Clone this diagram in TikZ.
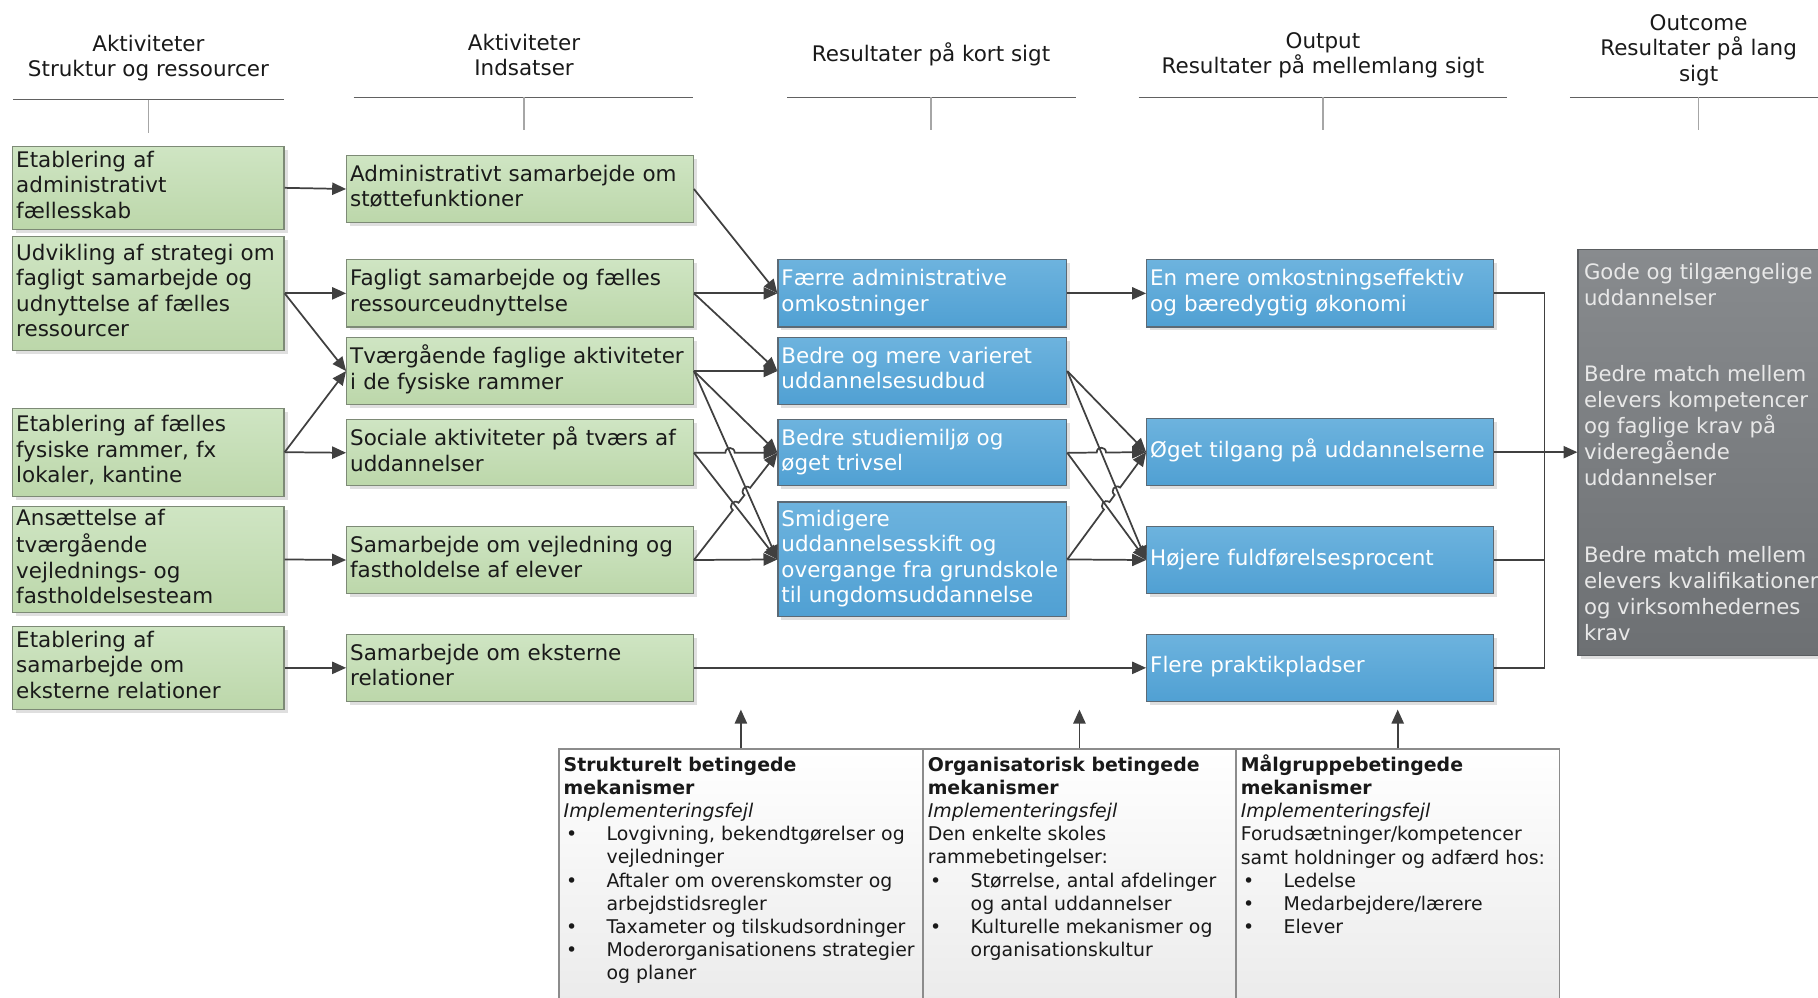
\documentclass[tikz,border=0pt]{standalone}
\usepackage{fontspec}
\setmainfont{DejaVu Sans}
\usetikzlibrary{arrows.meta,calc,shadows}
\definecolor{linec}{HTML}{404040}
\definecolor{gtop}{HTML}{CFE5C3}
\definecolor{gbot}{HTML}{BCD7AA}
\definecolor{gbord}{HTML}{7D8A76}
\definecolor{gtext}{HTML}{1A1A1A}
\definecolor{btop}{HTML}{6DB3DE}
\definecolor{bbot}{HTML}{50A0D3}
\definecolor{bbord}{HTML}{5C6A75}
\definecolor{otop}{HTML}{888B8E}
\definecolor{obot}{HTML}{6D7073}
\definecolor{obord}{HTML}{5A5D60}
\definecolor{otext}{HTML}{E8E8E8}
\newcommand\hopp[3]{-- ($(#1)!#3!(#2)!-4pt!(#2)$) .. controls ($(#1)!#3!(#2)!-4pt!(#2)!5.5pt!90:(#2)$) and ($(#1)!#3!(#2)!4pt!(#2)!5.5pt!90:(#2)$) .. ($(#1)!#3!(#2)!4pt!(#2)$)}
\newcommand\bul{\makebox[37pt][l]{\hspace{2pt}•}}
\newcommand\ind{\hspace*{37pt}}
\begin{document}
\begin{tikzpicture}[x=1pt,y=-1pt,
  conn/.style={draw=linec,line width=1.5pt,-{Triangle[length=12pt,width=10.5pt]}},
  bline/.style={draw=linec,line width=1.5pt},
  hline/.style={draw=black!62,line width=1pt},
  htick/.style={draw=black!35,line width=1.3pt},
  hdr/.style={align=center,font=\fontsize{18.5}{22}\selectfont,text=black!90,inner sep=0pt},
  base/.style={rectangle,line width=1pt,inner xsep=3pt,inner ysep=0pt,align=left,
     font=\fontsize{18.5}{22}\selectfont,
     execute at begin node=\strut, execute at end node=\strut,
     drop shadow={shadow xshift=3pt,shadow yshift=-3pt,fill=black!25,opacity=0.5}},
  gbox/.style={base,draw=gbord,top color=gtop,bottom color=gbot,text=gtext},
  bbox/.style={base,draw=bbord,top color=btop,bottom color=bbot,text=white},
  obox/.style={rectangle,line width=1pt,draw=obord,top color=otop,bottom color=obot,inner sep=0pt,
     drop shadow={shadow xshift=3pt,shadow yshift=-3pt,fill=black!25,opacity=0.5}},
  mbox/.style={rectangle,draw=black!45,line width=1.2pt,top color=white,bottom color=black!9,inner sep=0pt},
  btxt/.style={anchor=north west,align=left,inner sep=0pt,font=\fontsize{16.3}{20}\selectfont,text=black!90,
     execute at begin node=\strut},
  otxt/.style={anchor=north west,align=left,inner sep=0pt,font=\fontsize{18.3}{22.4}\selectfont,text=otext,
     execute at begin node=\strut},
  ]
\useasboundingbox (0,0) rectangle (1568,860);

% headers
\node[hdr] (H1) at (128,50) {Aktiviteter\\Struktur og ressourcer};
\draw[hline] (11,86) -- (245,86);
\draw[htick] (128,86) -- (128,115);
\node[hdr] (H2) at (452,47.5) {Aktiviteter\\Indsatser};
\draw[hline] (305,84) -- (598,84);
\draw[htick] (452,84) -- (452,112);
\node[hdr] (H3) at (803,47) {Resultater på kort sigt};
\draw[hline] (679,84) -- (928,84);
\draw[htick] (803,84) -- (803,112);
\node[hdr] (H4) at (1141,47.5) {Output\\Resultater på mellemlang sigt};
\draw[hline] (982,84) -- (1300,84);
\draw[htick] (1141,84) -- (1141,112);
\node[hdr] (H5) at (1465,43) {Outcome\\Resultater på lang\\sigt};
\draw[hline] (1354,84) -- (1570,84);
\draw[htick] (1465,84) -- (1465,112);

% left column
\node[gbox,text width=228pt,minimum height=72pt] (L1) at (128,162) {Etablering af\\administrativt\\fællesskab};
\node[gbox,text width=228pt,minimum height=98pt] (L2) at (128,253) {Udvikling af strategi om\\fagligt samarbejde og\\udnyttelse af fælles\\ressourcer};
\node[gbox,text width=228pt,minimum height=76pt] (L3) at (128,390) {Etablering af fælles\\fysiske rammer, fx\\lokaler, kantine};
\node[gbox,text width=228pt,minimum height=91pt] (L4) at (128,482.5) {Ansættelse af\\tværgående\\vejlednings- og\\fastholdelsesteam};
\node[gbox,text width=228pt,minimum height=72pt] (L5) at (128,576) {Etablering af\\samarbejde om\\eksterne relationer};

% middle column
\node[gbox,text width=293pt,minimum height=58pt] (M1) at (448.5,163) {Administrativt samarbejde om\\støttefunktioner};
\node[gbox,text width=293pt,minimum height=58pt] (M2) at (448.5,253) {Fagligt samarbejde og fælles\\ressourceudnyttelse};
\node[gbox,text width=293pt,minimum height=58pt] (M3) at (448.5,320) {\mbox{Tværgående faglige aktiviteter}\\i de fysiske rammer};
\node[gbox,text width=293pt,minimum height=57pt] (M4) at (448.5,390.5) {\mbox{Sociale aktiviteter på tværs af}\\uddannelser};
\node[gbox,text width=293pt,minimum height=58pt] (M5) at (448.5,483) {Samarbejde om vejledning og\\fastholdelse af elever};
\node[gbox,text width=293pt,minimum height=58pt] (M6) at (448.5,576) {Samarbejde om eksterne\\relationer};

% short-term results
\node[bbox,text width=243pt,minimum height=58pt] (S1) at (795.5,253) {Færre administrative\\omkostninger};
\node[bbox,text width=243pt,minimum height=58pt] (S2) at (795.5,320) {Bedre og mere varieret\\uddannelsesudbud};
\node[bbox,text width=243pt,minimum height=57pt] (S3) at (795.5,390.5) {Bedre studiemiljø og\\øget trivsel};
\node[bbox,text width=243pt,minimum height=99pt] (S4) at (795.5,482.5) {Smidigere\\uddannelsesskift og\\\mbox{overgange fra grundskole}\\til ungdomsuddannelse};

% output
\node[bbox,text width=293pt,minimum height=58pt] (O1) at (1138.5,253) {\mbox{En mere omkostningseffektiv}\\og bæredygtig økonomi};
\node[bbox,text width=293pt,minimum height=58pt] (O2) at (1138.5,390) {Øget tilgang på uddannelserne};
\node[bbox,text width=293pt,minimum height=58pt] (O3) at (1138.5,483) {Højere fuldførelsesprocent};
\node[bbox,text width=293pt,minimum height=58pt] (O4) at (1138.5,576) {Flere praktikpladser};

% outcome
\node[obox,minimum width=249pt,minimum height=350pt] (OC) at (1485.5,390) {};
\node[otxt] (OCt) at (1366,227) {Gode og tilgængelige\\uddannelser\\[43.5pt]Bedre match mellem\\elevers kompetencer\\og faglige krav på\\videregående\\uddannelser\\[43.5pt]Bedre match mellem\\elevers kvalifikationer\\og virksomhedernes\\krav};

% bottom mechanism boxes
\node[mbox,minimum width=314pt,minimum height=250pt] (B1) at (639,771) {};
\node[mbox,minimum width=270pt,minimum height=250pt] (B2) at (931,771) {};
\node[mbox,minimum width=279pt,minimum height=250pt] (B3) at (1205.5,771) {};
\node[btxt] (B1t) at (486,652.5) {\textbf{Strukturelt betingede}\\\textbf{mekanismer}\\\textit{Implementeringsfejl}\\\bul Lovgivning, bekendtgørelser og\\\ind vejledninger\\\bul Aftaler om overenskomster og\\\ind arbejdstidsregler\\\bul Taxameter og tilskudsordninger\\\bul Moderorganisationens strategier\\\ind og planer};
\node[btxt] (B2t) at (800,652.5) {\textbf{Organisatorisk betingede}\\\textbf{mekanismer}\\\textit{Implementeringsfejl}\\Den enkelte skoles\\rammebetingelser:\\\bul Størrelse, antal afdelinger\\\ind og antal uddannelser\\\bul Kulturelle mekanismer og\\\ind organisationskultur};
\node[btxt] (B3t) at (1070,650.5) {\textbf{Målgruppebetingede}\\\textbf{mekanismer}\\\textit{Implementeringsfejl}\\Forudsætninger/kompetencer\\samt holdninger og adfærd hos:\\\bul Ledelse\\\bul Medarbejdere/lærere\\\bul Elever};

% connectors: left -> middle
\draw[conn] (L1.east) -- (M1.west);
\draw[conn] (L2.east) -- (M2.west);
\draw[conn] (L2.east) -- (M3.west);
\draw[conn] (L3.east) -- (M3.west);
\draw[conn] (L3.east) -- (M4.west);
\draw[conn] (L4.east) -- (M5.west);
\draw[conn] (L5.east) -- (M6.west);

% middle -> short term
\draw[conn] (M1.east) -- (S1.west);
\draw[conn] (M2.east) -- (S1.west);
\draw[conn] (M2.east) -- (S2.west);
\draw[conn] (M3.east) -- (S2.west);
\draw[conn] (M3.east) -- (S3.west);
\draw[conn] (M3.east) -- (S4.west);
\draw[conn] (M4.east) \hopp{M4.east}{S3.west}{0.4325} -- (S3.west);
\draw[conn] (M4.east) -- (S4.west);
\draw[conn] (M5.east) \hopp{M5.east}{S3.west}{0.5} \hopp{M5.east}{S3.west}{0.639} -- (S3.west);
\draw[conn] (M5.east) -- (S4.west);
\draw[conn] (M6.east) -- (O4.west);

% short term -> output
\draw[conn] (S1.east) -- (O1.west);
\draw[conn] (S2.east) -- (O2.west);
\draw[conn] (S2.east) -- (O3.west);
\draw[conn] (S3.east) \hopp{S3.east}{O2.west}{0.4325} -- (O2.west);
\draw[conn] (S3.east) -- (O3.west);
\draw[conn] (S4.east) \hopp{S4.east}{O2.west}{0.5} \hopp{S4.east}{O2.west}{0.636} -- (O2.west);
\draw[conn] (S4.east) -- (O3.west);

% output -> outcome bracket
\coordinate (BJ) at (1332,390);
\draw[bline] (O1.east) -| (BJ) |- (O4.east);
\draw[bline] (O3.east) -- (O3.east -| BJ);
\draw[conn] (O2.east) -- (OC.west);

% mechanisms -> chain
\coordinate (U1) at (639,612);
\coordinate (U2) at (931,612);
\coordinate (U3) at (1205.5,612);
\draw[conn] (B1.north) -- (U1);
\draw[conn] (B2.north) -- (U2);
\draw[conn] (B3.north) -- (U3);
\end{tikzpicture}
\end{document}
